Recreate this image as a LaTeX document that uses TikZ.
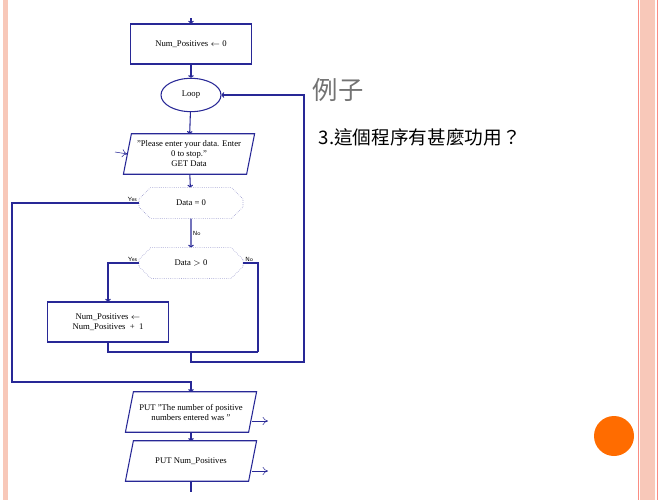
\documentclass[tikz,border=0pt]{standalone}
\usepackage{fontspec}
\setmainfont{Liberation Serif}
\newfontfamily\cjk{Noto Sans CJK TC}
\usetikzlibrary{shapes.geometric, shapes.misc, arrows.meta, positioning}

\definecolor{lineblue}{RGB}{40,40,150}
\definecolor{bandpink}{RGB}{248,200,185}

\begin{document}
\begin{tikzpicture}[
    x=0.75pt, y=-0.75pt,
    font=\fontsize{6.5}{7.5}\selectfont,
    box/.style={rectangle, draw=lineblue, thick, minimum width=91pt, minimum height=30pt, align=center, inner sep=1pt},
    io/.style={rectangle, minimum width=92pt, minimum height=30pt, align=center, inner sep=1pt},
    iobox/.style={draw=lineblue, thick},
    decision/.style={chamfered rectangle, chamfered rectangle xsep=12pt, draw=lineblue!60, densely dotted, thin, minimum width=78pt, minimum height=23pt},
    loopnode/.style={ellipse, draw=lineblue, thick, minimum width=45pt, minimum height=25pt},
    link/.style={draw=lineblue, thick},
    arrow/.style={-{To[length=2pt]}, draw=lineblue, thick},
    flow/.style={-{To[length=4pt,width=6pt]}, lineblue, thin},
    lbl/.style={font=\fontsize{4.5}{5}\selectfont\sffamily, inner sep=1pt}
]
\useasboundingbox (0,0) rectangle (667,500);

% slide frame
\fill[bandpink] (3,0) rectangle (8,500);
\fill[bandpink] (640,0) rectangle (655,500);
\draw[bandpink!70!red, thin] (638,0) -- (638,500) (657,0) -- (657,500);

% Nodes
\node[box] (init) at (191,44) {Num\_Positives $\leftarrow$ 0};
\node[loopnode] (loop) at (191,95) {Loop};
\node[io] (get) at (189,154) {"Please enter your data. Enter\\0 to stop."\\GET Data};
\node[decision] (zero) at (191,203) {Data = 0};
\node[decision] (pos) at (191,263) {Data $>$ 0};
\node[box] (incr) at (108,322) {Num\_Positives $\leftarrow$\\Num\_Positives\ \ +\ \ 1};
\node[io] (put1) at (191,412) {PUT "The number of positive\\numbers entered was "};
\node[io] (put2) at (191,461) {PUT Num\_Positives};

% parallelograms
\foreach \n in {get, put1, put2}
  \draw[iobox] ([xshift=-3pt]\n.south west) -- ([xshift=3pt]\n.north west)
    -- ([xshift=3pt]\n.north east) -- ([xshift=-3pt]\n.south east) -- cycle;

\coordinate (top) at (191,18);
\coordinate (join) at (191,352);
\coordinate (exitjoin) at (191,382);
\coordinate (bottom) at (191,492);
\coordinate (getin) at (115,152);
\coordinate (put1from) at (252,421);
\coordinate (put1out) at (268,421);
\coordinate (put2from) at (252,471);
\coordinate (put2out) at (268,471);

% Arrows
\draw[arrow] (top) -- (init);
\draw[arrow] (init) -- (loop);
\draw[arrow] (loop) -- (get);
\draw[arrow] (get) -- (zero);
\draw[arrow] (zero) -- node[lbl, right] {No} (pos);
\draw[arrow] (zero.west) -- node[lbl, above, pos=0.05] {Yes} (12,203) -- (12,382) -- (exitjoin) -- (put1);
\draw[arrow] (pos.west) -- node[lbl, above, pos=0.2] {Yes} (108,263) -- (incr);
\draw[link] (pos.east) -- node[lbl, above, pos=0.4] {No} (258,263) -- (258,352);
\draw[link] (incr) -- (108,352) -- (258,352);
\draw[arrow] (join) -- (191,362) -- (304,362) -- (304,95) -- (loop);
\draw[arrow] (put1) -- (put2);
\draw[link] (put2) -- (bottom);
\draw[flow] (getin) -- (get.west);
\draw[flow] (put1from) -- (put1out);
\draw[flow] (put2from) -- (put2out);

% slide text
\node[anchor=west, text=black!55, font=\cjk\fontsize{19}{20}\selectfont] (title) at (308,90) {例子};
\node[anchor=west, font=\cjk\fontsize{14}{16}\selectfont] (question) at (314,137) {3.這個程序有甚麼功用？};
\fill[orange!85!red] (614,436) circle (20);
\end{tikzpicture}
\end{document}
